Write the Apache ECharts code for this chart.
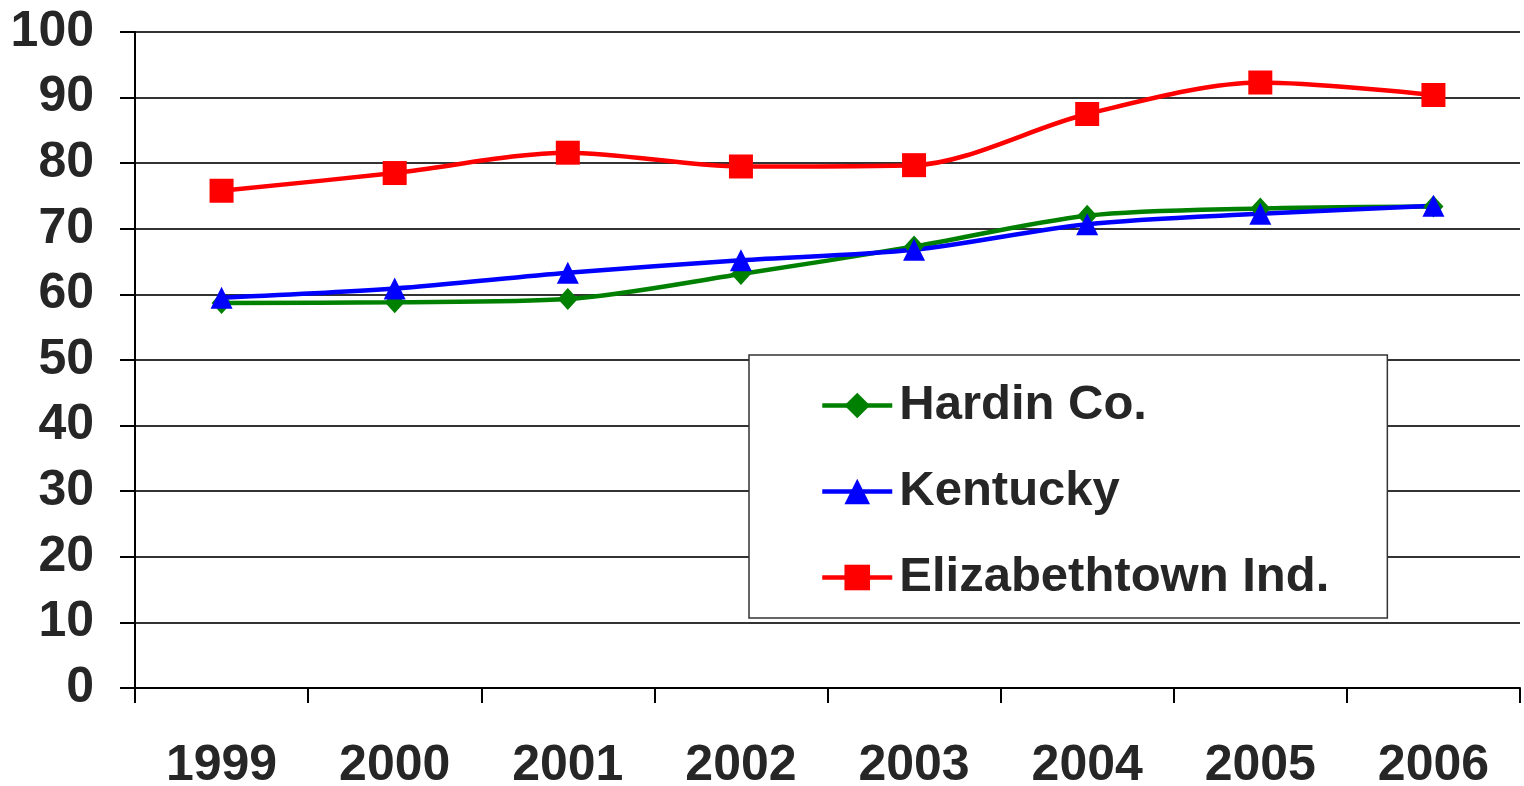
<!DOCTYPE html>
<html>
<head>
<meta charset="utf-8">
<script src="https://cdn.jsdelivr.net/npm/echarts@6/dist/echarts.min.js"></script>
<style>html,body{margin:0;padding:0;background:#fff;}#c{width:1524px;height:786px;}</style>
</head>
<body>
<div id="c"></div>
<script>
const years = ['1999','2000','2001','2002','2003','2004','2005','2006'];
const hardin = [58.7, 58.8, 59.3, 63.1, 67.3, 72.0, 73.1, 73.4];
const kentucky = [59.5, 60.9, 63.3, 65.2, 66.8, 70.7, 72.3, 73.5];
const etown = [75.8, 78.5, 81.6, 79.5, 79.7, 87.5, 92.3, 90.4];
const yTicks = [0, 10, 20, 30, 40, 50, 60, 70, 80, 90, 100];

const FONT = '"Liberation Sans", Arial, sans-serif';
const chart = echarts.init(document.getElementById('c'));
function ser(name, data, color, symbol, size) {
  return {
    name, type: 'line', data, smooth: 0.3,
    symbol, symbolSize: size,
    lineStyle: {color, width: 4.5},
    itemStyle: {color},
    emphasis: {disabled: true},
    z: 3
  };
}
chart.setOption({
  animation: false,
  backgroundColor: '#fff',
  grid: {left: 135, right: 4, top: 32, bottom: 98, containLabel: false, outerBoundsMode: 'none'},
  xAxis: {
    type: 'category', data: years, boundaryGap: true,
    axisLine: {lineStyle: {color: '#000', width: 2}},
    axisTick: {show: true, length: 15, lineStyle: {color: '#000', width: 2}},
    axisLabel: {margin: 53, color: '#262626', fontSize: 50, fontWeight: 'bold', fontFamily: FONT},
    splitLine: {show: false}
  },
  yAxis: {
    type: 'value', min: yTicks[0], max: yTicks[yTicks.length-1], interval: 10,
    axisLine: {show: true, lineStyle: {color: '#000', width: 2}},
    axisTick: {show: true, length: 15, lineStyle: {color: '#000', width: 2}},
    axisLabel: {margin: 41, color: '#262626', fontSize: 50, fontWeight: 'bold', fontFamily: FONT},
    splitLine: {show: true, lineStyle: {color: '#333', width: 2}}
  },
  legend: {
    orient: 'vertical', left: 749, top: 355,
    backgroundColor: '#fff', borderColor: '#333', borderWidth: 1.5,
    padding: [26, 58, 16, 71],
    itemGap: 37, itemWidth: 70, itemHeight: 32,
    lineStyle: {width: 4.5},
    textStyle: {color: '#262626', fontSize: 49, fontWeight: 'bold', fontFamily: FONT, padding: [0,0,0,2]},
    data: ['Hardin Co.', 'Kentucky', 'Elizabethtown Ind.']
  },
  series: [
    ser('Hardin Co.', hardin, '#008000', 'diamond', [20, 22]),
    ser('Kentucky', kentucky, '#0000ff', 'triangle', 22),
    ser('Elizabethtown Ind.', etown, '#ff0000', 'rect', 24)
  ]
});
</script>
</body>
</html>
